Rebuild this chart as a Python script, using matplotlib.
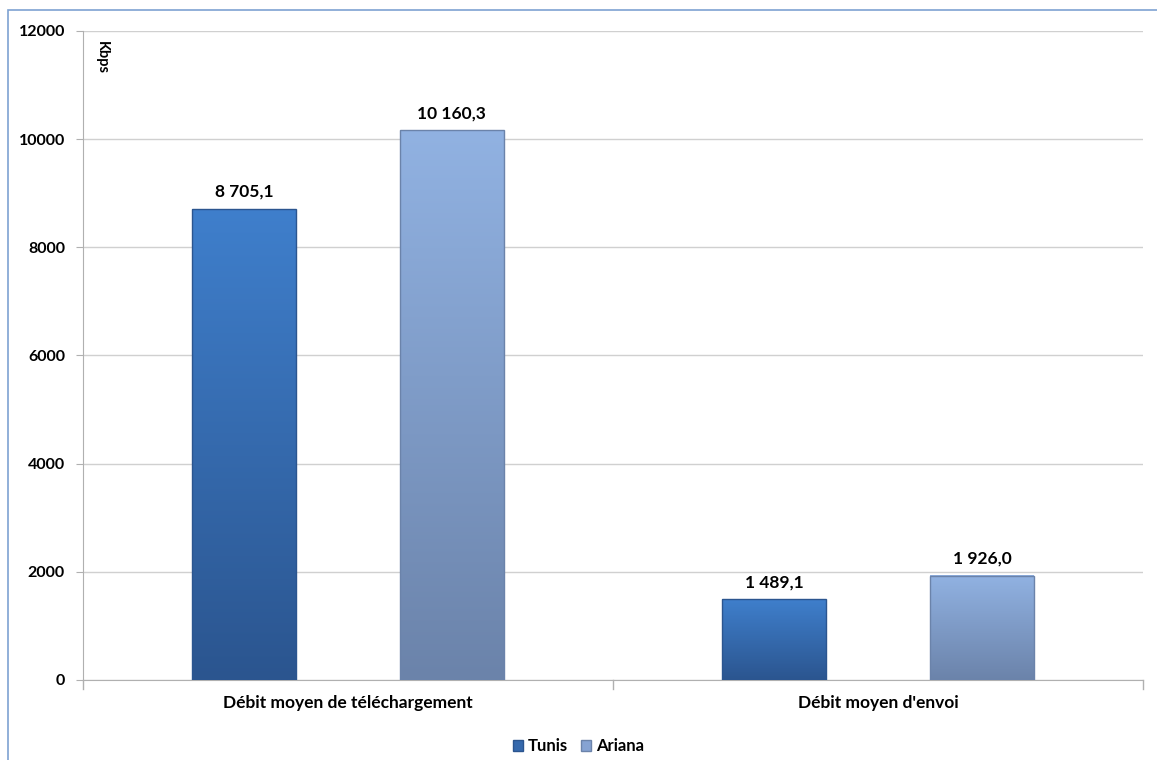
import numpy as np
import matplotlib
matplotlib.use("Agg")
import matplotlib.pyplot as plt
from matplotlib.patches import Rectangle
from matplotlib.colors import LinearSegmentedColormap

plt.rcParams['font.family'] = ['Lato', 'DejaVu Sans']
plt.rcParams['font.weight'] = 'bold'

# données
categories = ["Débit moyen de téléchargement", "Débit moyen d'envoi"]
series = ["Tunis", "Ariana"]
tunis = [8705.1, 1489.1]
ariana = [10160.3, 1926.0]
labels_tunis = ["8 705,1", "1 489,1"]
labels_ariana = ["10 160,3", "1 926,0"]
yticks = [0, 2000, 4000, 6000, 8000, 10000, 12000]

# dégradés (haut -> bas)
grad = {
    "Tunis": ("#3f7fcc", "#2b558f"),
    "Ariana": ("#91b2e2", "#6b83aa"),
}
legend_col = {"Tunis": "#3569ad", "Ariana": "#86a3d3"}

fig = plt.figure(figsize=(11.57, 7.6), dpi=100)
ax = fig.add_axes([0.0717, 0.1053, 0.9163, 0.8540])

bw = 0.196
off = 0.196
x = np.arange(len(categories))

def grad_bar(ax, xc, h, name):
    top, bot = grad[name]
    cmap = LinearSegmentedColormap.from_list(name, [bot, top])
    g = np.linspace(0, 1, 256).reshape(-1, 1)
    ax.imshow(g, extent=[xc - bw / 2, xc + bw / 2, 0, h], origin='lower',
              aspect='auto', cmap=cmap, zorder=3)
    ax.add_patch(Rectangle((xc - bw / 2, 0), bw, h, fill=False,
                           edgecolor=bot, lw=1.0, zorder=4))

for i in range(len(categories)):
    grad_bar(ax, x[i] - off, tunis[i], "Tunis")
    grad_bar(ax, x[i] + off, ariana[i], "Ariana")
    ax.text(x[i] - off, tunis[i] + 170, labels_tunis[i], ha='center',
            va='bottom', fontsize=12.5, fontweight='bold')
    ax.text(x[i] + off, ariana[i] + 170, labels_ariana[i], ha='center',
            va='bottom', fontsize=12.5, fontweight='bold')

ax.set_xlim(-0.5, len(categories) - 0.5)
ax.set_ylim(0, 12000)
ax.set_yticks(yticks)
ax.set_yticklabels([str(v) for v in yticks], fontsize=11.5, fontweight='bold')
ax.set_xticks(x)
ax.set_xticklabels(categories, fontsize=12.5, fontweight='bold')
ax.tick_params(axis='x', length=0, pad=11)
ax.tick_params(axis='y', length=5, color='#b0b0b0', pad=8)
# séparateurs de catégories
for b in [-0.5, 0.5, 1.5]:
    ax.plot([b, b], [0, -170], color='#b0b0b0', lw=1, clip_on=False)

ax.grid(axis='y', color='#d0d0d0', lw=1)
ax.set_axisbelow(True)
for s in ['top', 'right']:
    ax.spines[s].set_visible(False)
ax.spines['left'].set_color('#b0b0b0')
ax.spines['bottom'].set_color('#b0b0b0')

ax.text(0.011, 0.985, "Kbps", transform=ax.transAxes, rotation=-90,
        ha='left', va='top', fontsize=10.5, fontweight='bold')

handles = [Rectangle((0, 0), 1, 1, facecolor=legend_col[s], edgecolor='#2b558f' if s == "Tunis" else '#6b83aa')
           for s in series]
fig.legend(handles, series, loc='lower center', bbox_to_anchor=(0.5, -0.012),
           ncol=2, frameon=False, handlelength=0.6, handleheight=0.6,
           handletextpad=0.3, columnspacing=0.8,
           prop={'size': 12, 'weight': 'bold'})

fig.patches.append(Rectangle((8 / 1157, -0.01), 1.1, 1 - 10 / 760 + 0.01,
                             transform=fig.transFigure, fill=False,
                             edgecolor='#7ea2d2', lw=1.2))

fig.savefig("out.png", dpi=100, facecolor='white')
